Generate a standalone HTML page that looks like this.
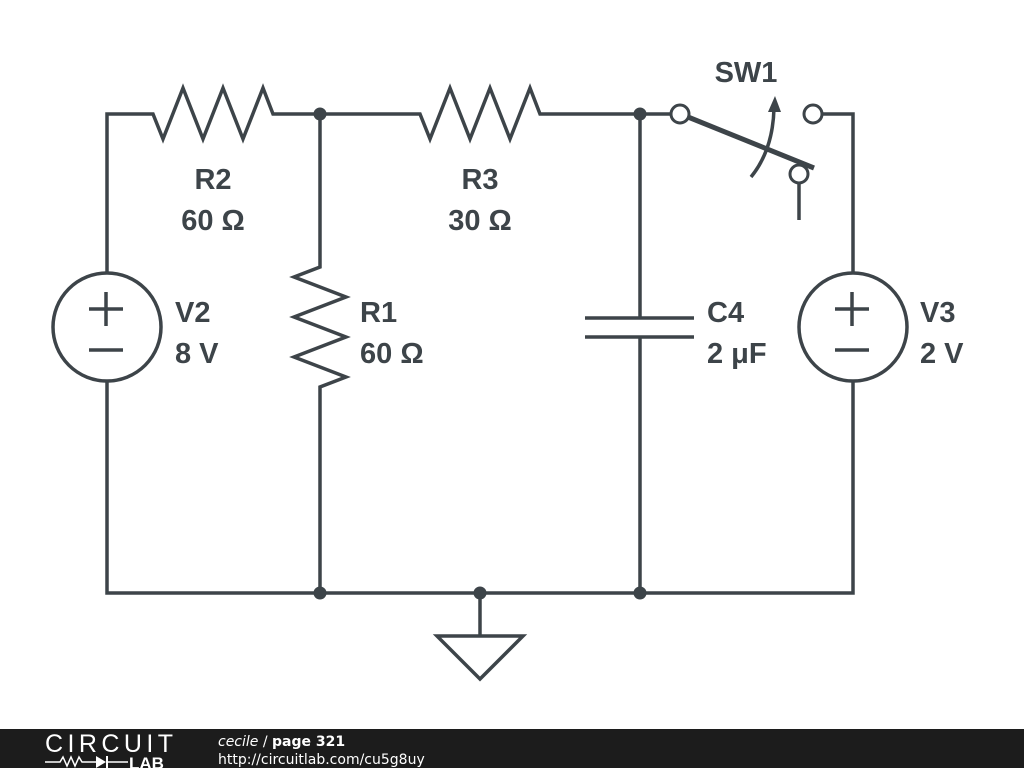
<!DOCTYPE html>
<html><head><meta charset="utf-8"><style>
html,body{margin:0;padding:0;background:#fff}
svg{display:block}
text{font-family:"Liberation Sans",sans-serif;font-weight:bold;fill:#3d4449}
</style></head><body>
<svg width="1024" height="768" viewBox="0 0 1024 768" xmlns="http://www.w3.org/2000/svg">
<g stroke="#3d4449" stroke-width="3.5" fill="none" stroke-linejoin="miter">
<polyline points="107,273 107,114 153,114 163,139 183,88 203,139 223,88 243,139 263,88 273,114 420,114 430,139 450,88 470,139 490,88 510,139 530,88 540,114 671,114"/>
<polyline points="822,114 853,114 853,273"/>
<polyline points="107,381 107,593 853,593 853,381"/>
<polyline points="320,114 320,267 294,277 346,297 294,317 346,337 294,357 346,377 320,387 320,593"/>
<line x1="640" y1="114" x2="640" y2="318"/>
<line x1="640" y1="337" x2="640" y2="593"/>
<line x1="585" y1="318" x2="694" y2="318"/>
<line x1="585" y1="337" x2="694" y2="337"/>
<line x1="480" y1="593" x2="480" y2="636"/>
<polygon points="437,636 523,636 480,679"/>
<circle cx="107" cy="327" r="54"/>
<circle cx="853" cy="327" r="54"/>
<line x1="89" y1="309" x2="123" y2="309"/><line x1="106" y1="292" x2="106" y2="326"/>
<line x1="89" y1="350" x2="123" y2="350"/>
<line x1="835" y1="309" x2="869" y2="309"/><line x1="852" y1="292" x2="852" y2="326"/>
<line x1="835" y1="350" x2="869" y2="350"/>
<circle cx="680" cy="114" r="9" stroke-width="3"/>
<circle cx="813" cy="114" r="9" stroke-width="3"/>
<circle cx="799" cy="174" r="9" stroke-width="3"/>
<line x1="799" y1="183" x2="799" y2="220"/>
<line x1="688" y1="117" x2="814" y2="168" stroke-width="5"/>
<path d="M751,177 Q773,150 774,108"/>
</g>
<polygon points="768,112 781,112 775,96" fill="#3d4449"/>
<g fill="#3d4449">
<circle cx="320" cy="114" r="6.5"/><circle cx="640" cy="114" r="6.5"/>
<circle cx="320" cy="593" r="6.5"/><circle cx="480" cy="593" r="6.5"/><circle cx="640" cy="593" r="6.5"/>
</g>
<g font-size="29">
<text x="213" y="189" text-anchor="middle">R2</text>
<text x="213" y="230" text-anchor="middle">60 Ω</text>
<text x="480" y="189" text-anchor="middle">R3</text>
<text x="480" y="230" text-anchor="middle">30 Ω</text>
<text x="360" y="322">R1</text>
<text x="360" y="363">60 Ω</text>
<text x="707" y="322">C4</text>
<text x="707" y="363">2 μF</text>
<text x="175" y="322">V2</text>
<text x="175" y="363">8 V</text>
<text x="920" y="322">V3</text>
<text x="920" y="363">2 V</text>
<text x="746" y="82" text-anchor="middle">SW1</text>
</g>
<rect x="0" y="729" width="1024" height="39" fill="#1c1c1c"/>
<text x="45" y="752" font-size="25" style="font-weight:normal;fill:#fff;font-family:'Liberation Sans',sans-serif" textLength="128">CIRCUIT</text>
<polyline points="45,762 60,762 63,757 67,766 71,757 75,766 79,757 82,762 96,762" stroke="#fff" stroke-width="1.5" fill="none"/>
<polygon points="96,756 96,768 106,762" fill="#fff"/>
<line x1="107" y1="756" x2="107" y2="768" stroke="#fff" stroke-width="2"/>
<line x1="107" y1="762" x2="128" y2="762" stroke="#fff" stroke-width="1.5"/>
<text x="129" y="769" font-size="17" style="fill:#fff;font-family:'Liberation Sans',sans-serif">LAB</text>
<text x="218" y="746" font-size="14" style="fill:#fff;font-weight:normal;font-family:'DejaVu Sans',sans-serif"><tspan font-style="italic">cecile</tspan> / <tspan font-weight="bold">page 321</tspan></text>
<text x="218" y="764" font-size="14" style="fill:#fff;font-weight:normal;font-family:'DejaVu Sans',sans-serif">http://circuitlab.com/cu5g8uy</text>
</svg>
</body></html>
